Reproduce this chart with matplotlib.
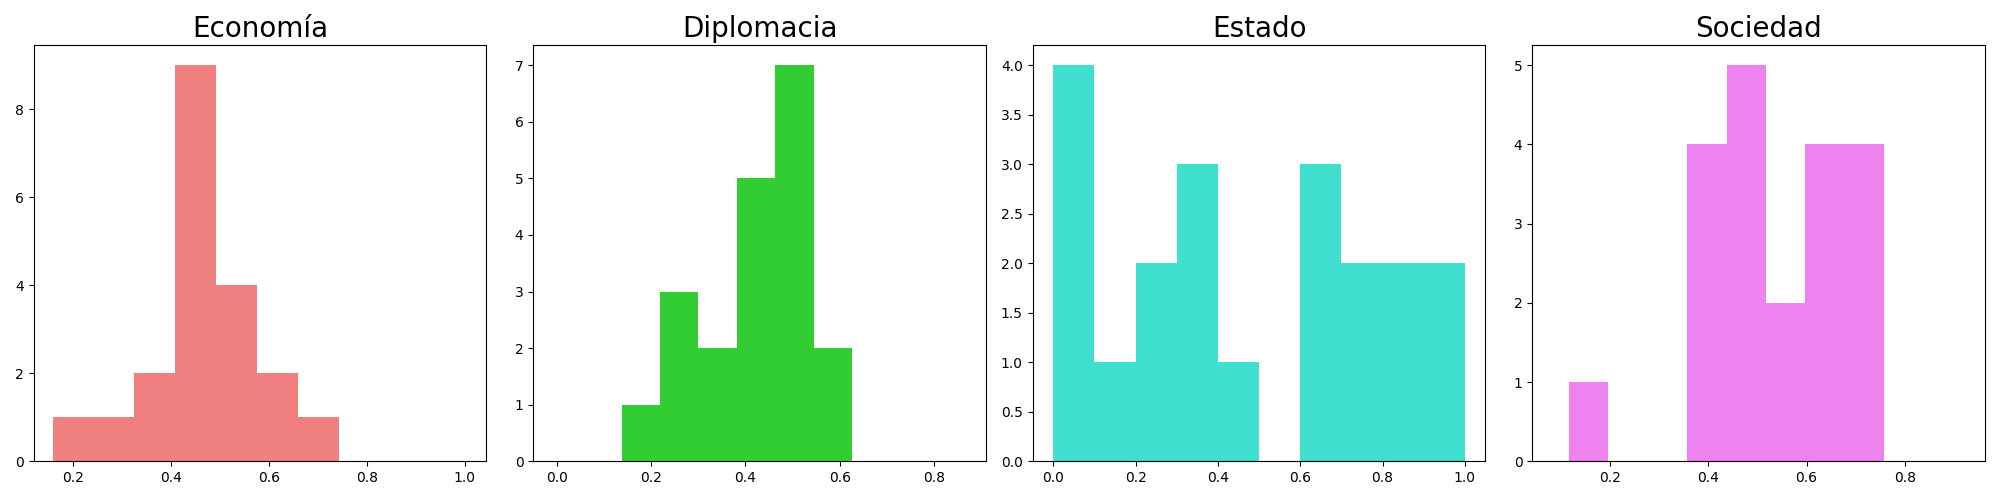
import numpy as np
import matplotlib
matplotlib.use("Agg")
import matplotlib.pyplot as plt

titles = ["Economía", "Diplomacia", "Estado", "Sociedad"]
colors = ["lightcoral", "limegreen", "turquoise", "violet"]

# bin edges and counts
eco_edges = np.linspace(0.158, 0.993, 11)
eco_counts = [1, 1, 2, 9, 4, 2, 1, 0, 0, 0]
dip_edges = np.linspace(0.138, 0.951, 11)
dip_counts = [1, 3, 2, 5, 7, 2, 0, 0, 0, 0]
est_edges = np.linspace(0.0, 1.0, 11)
est_counts = [4, 1, 2, 3, 1, 0, 3, 2, 2, 2]
soc_edges = np.linspace(0.1175, 0.9175, 11)
soc_counts = [1, 0, 0, 4, 5, 2, 4, 4, 0, 0]

edges = [eco_edges, dip_edges, est_edges, soc_edges]
counts = [eco_counts, dip_counts, est_counts, soc_counts]
xlims = [(0.119, 1.044), (-0.05, 0.91), (-0.05, 1.05), (0.0425, 0.9625)]

fig, axes = plt.subplots(1, 4, figsize=(20, 5), dpi=100)
for ax, t, c, e, n, xl in zip(axes, titles, colors, edges, counts, xlims):
    centers = (e[:-1] + e[1:]) / 2
    ax.hist(centers, bins=e, weights=n, color=c)
    ax.set_xlim(*xl)
    ax.set_title(t, fontsize=20)
fig.tight_layout()
fig.savefig("out.png")
